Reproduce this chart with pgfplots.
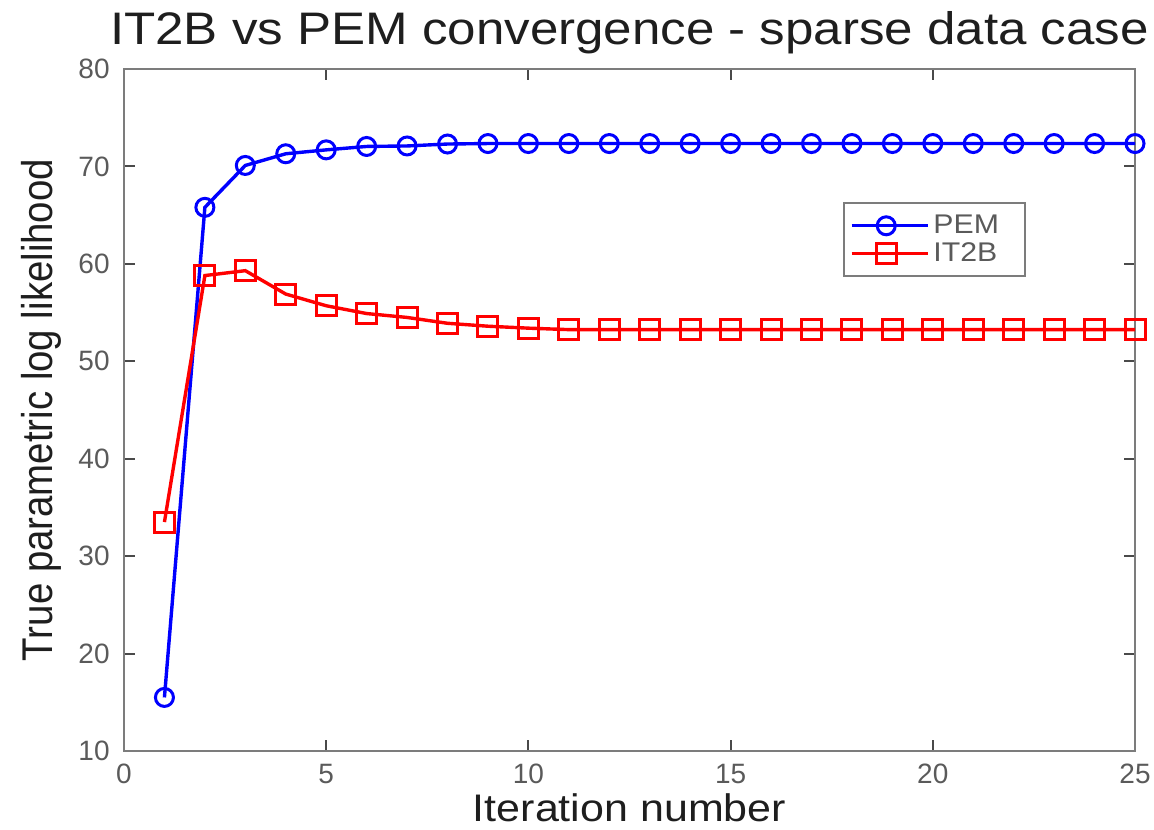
\documentclass[border=0pt]{standalone}
\usepackage{pgfplots}
\pgfplotsset{compat=1.18}
\usepackage{fontspec}
\setmainfont{Liberation Sans}
\newfontfamily\widefont{Liberation Sans}[FakeStretch=1.12]
\definecolor{framegray}{HTML}{7C7C7C}
\definecolor{tickgray}{HTML}{4A4A4A}
\definecolor{labelgray}{HTML}{5A5A5A}
\definecolor{textdark}{HTML}{1E1E1E}
\pgfplotstableread{
x y
1 15.5
2 65.8
3 70.1
4 71.3
5 71.7
6 72.05
7 72.1
8 72.3
9 72.35
10 72.35
11 72.35
12 72.35
13 72.35
14 72.35
15 72.35
16 72.35
17 72.35
18 72.35
19 72.35
20 72.35
21 72.35
22 72.35
23 72.35
24 72.35
25 72.35
}\pemdata
\pgfplotstableread{
x y
1 33.5
2 58.8
3 59.3
4 56.9
5 55.7
6 54.9
7 54.5
8 53.9
9 53.6
10 53.4
11 53.25
12 53.25
13 53.25
14 53.25
15 53.25
16 53.25
17 53.25
18 53.25
19 53.25
20 53.25
21 53.25
22 53.25
23 53.25
24 53.25
25 53.25
}\itdata
\begin{document}
\begin{tikzpicture}
\useasboundingbox (-62pt,-39pt) rectangle (515pt,375.5pt);
\begin{axis}[
  at={(0,0)}, anchor=south west,
  scale only axis, width=505.5pt, height=341pt,
  xmin=0, xmax=25, ymin=10, ymax=80,
  xtick={0,5,...,25}, ytick={10,20,...,80},
  tick align=inside, major tick length=5.5pt,
  axis line style={framegray, line width=1.4pt},
  tick style={tickgray, line width=1pt},
  /pgf/number format/assume math mode=true,
  ticklabel style={font=\fontsize{14}{16}\selectfont, text=labelgray},
  xticklabel style={anchor=base, inner sep=0pt, yshift=-16pt},
  yticklabel style={anchor=east, inner sep=0pt, xshift=-7pt},
  xlabel={Iteration number},
  xlabel style={at={(axis description cs:0.5,-0.1041)}, anchor=base, font=\widefont\fontsize{19.2}{22}\selectfont, text=textdark, inner sep=0pt},
  ylabel={\scalebox{1}[1.12]{True parametric log likelihood}},
  ylabel style={at={(axis description cs:-0.0712,0.5)}, anchor=base, font=\fontsize{19.2}{22}\selectfont, text=textdark, inner sep=0pt},
  title={IT2B vs PEM convergence - sparse data case},
  every axis title shift=0pt,
  title style={at={(axis description cs:0.5,1.0352)}, anchor=base, font=\widefont\fontsize{22.8}{26}\selectfont, text=textdark, inner sep=0pt},
  legend style={at={(axis cs:17.78,66.35)}, anchor=north west, draw=framegray, line width=1pt,
    font=\widefont\fontsize{13.5}{15}\selectfont, text=labelgray, inner xsep=3pt, inner ysep=3pt,
    row sep=-3pt, cells={anchor=west}, nodes={inner ysep=3pt}},
  legend image code/.code={%
    \path (-3pt,0pt) -- (35pt,0pt);
    \draw[#1, mark repeat=2, mark phase=2] plot coordinates {(0pt,0pt) (14.25pt,0pt) (28.5pt,0pt)};},
]
\addplot[blue, line width=1.7pt, mark=o, mark size=4.5pt, mark options={line width=1.5pt}] table[x=x,y=y] {\pemdata};
\addlegendentry{PEM\rule{8pt}{0pt}}
\addplot[red, line width=1.7pt, mark=square, mark size=5pt, mark options={line width=1.5pt}] table[x=x,y=y] {\itdata};
\addlegendentry{IT2B}
\end{axis}
\end{tikzpicture}
\end{document}
